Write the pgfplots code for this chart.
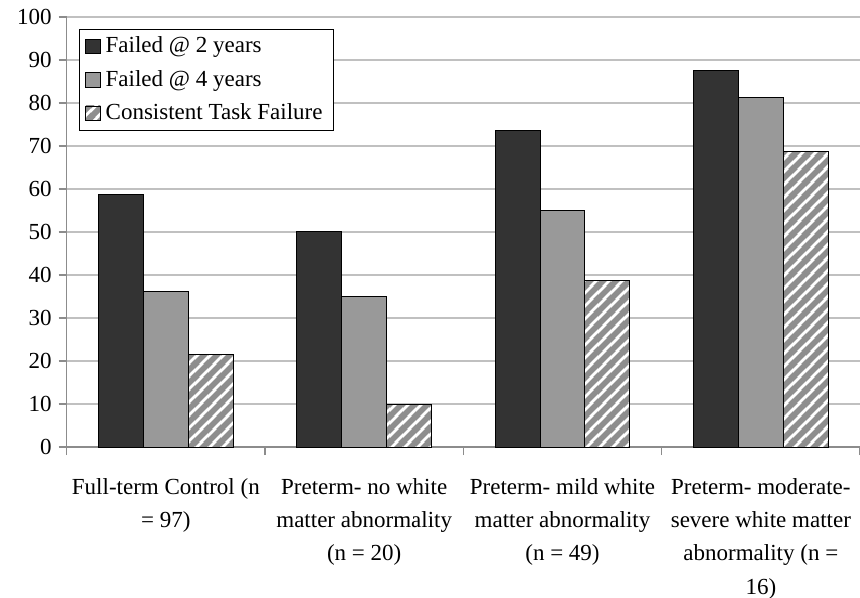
\documentclass[border=0pt]{standalone}
\usepackage{fontspec}
\setmainfont{Liberation Serif}
\usepackage{pgfplots}
\pgfplotsset{compat=1.18}
\usetikzlibrary{patterns}

\definecolor{bardark}{HTML}{333333}
\definecolor{barmid}{HTML}{999999}
\definecolor{hatchgray}{HTML}{8E8E8E}
\definecolor{gridgray}{HTML}{C0C0C0}
\definecolor{axisgray}{HTML}{8C8C8C}

% thick "/" hatching, 6.5pt period
\pgfdeclarepatternformonly{thickhatch}{\pgfqpoint{0pt}{0pt}}{\pgfqpoint{6.5pt}{6.5pt}}{\pgfqpoint{6.5pt}{6.5pt}}{
  \pgfsetlinewidth{3pt}
  \pgfpathmoveto{\pgfqpoint{-1pt}{-1pt}}\pgfpathlineto{\pgfqpoint{7.5pt}{7.5pt}}
  \pgfpathmoveto{\pgfqpoint{-2pt}{4.5pt}}\pgfpathlineto{\pgfqpoint{2pt}{8.5pt}}
  \pgfpathmoveto{\pgfqpoint{4.5pt}{-2pt}}\pgfpathlineto{\pgfqpoint{8.5pt}{2pt}}
  \pgfusepath{stroke}}

\begin{document}
\begin{tikzpicture}
\begin{axis}[
  width=396.65pt, height=215pt, scale only axis,
  xmin=-0.5, xmax=3.5, ymin=0, ymax=100,
  ytick={0,10,...,100},
  ymajorgrids, grid style={gridgray, line width=0.6pt},
  axis x line*=bottom, axis y line*=left,
  axis line style={axisgray, line width=0.6pt, -},
  tick align=outside,
  major tick length=4pt, minor tick length=4pt,
  ytick style={axisgray, line width=0.6pt},
  xtick={0,1,2,3},
  major x tick style={draw=none},
  minor xtick={-0.5,0.5,1.5,2.5,3.5},
  minor x tick style={axisgray, line width=0.6pt},
  xticklabels={
    {Full-term Control (n\\= 97)},
    {Preterm- no white\\matter abnormality\\(n = 20)},
    {Preterm- mild white\\matter abnormality\\(n = 49)},
    {Preterm- moderate-\\severe white matter\\abnormality (n =\\16)}},
  xticklabel style={align=center, yshift=-8pt},
  tick label style={font=\fontsize{11.5}{16.7}\selectfont},
  /pgf/number format/assume math mode=true,
  legend cell align=left,
  legend style={at={(0.0155,0.972)}, anchor=north west, draw=black,
    line width=0.5pt, fill=white, font=\fontsize{11.5}{14}\selectfont,
    inner xsep=3pt, inner ysep=1.2pt, row sep=2.2pt,
    nodes={inner sep=2.5pt}},
  legend image code/.code={\draw[#1, line width=0.4pt] (0pt,-3.6pt) rectangle (7.2pt,3.6pt);},
]
\addplot[ybar, bar width=0.226, bar shift=-0.226, fill=bardark, draw=black, line width=0.5pt]
  coordinates {(0,58.8) (1,50) (2,73.5) (3,87.5)};
\addlegendentry{Failed @ 2 years}
\addplot[ybar, bar width=0.226, bar shift=0, fill=barmid, draw=black, line width=0.5pt]
  coordinates {(0,36.1) (1,35) (2,55.1) (3,81.25)};
\addlegendentry{Failed @ 4 years}
% white ground under the hatching
\addplot[ybar, bar width=0.226, bar shift=0.226, fill=white, draw=none, forget plot]
  coordinates {(0,21.6) (1,10) (2,38.8) (3,68.75)};
\addplot[ybar, bar width=0.226, bar shift=0.226, draw=black, line width=0.5pt,
  pattern=thickhatch, pattern color=hatchgray]
  coordinates {(0,21.6) (1,10) (2,38.8) (3,68.75)};
\addlegendentry{Consistent Task Failure}
\end{axis}
\pgfresetboundingbox
\path (current axis.south west) ++(-33.35pt,-75.5pt) rectangle ([yshift=8.5pt]current axis.north east);
\end{tikzpicture}
\end{document}
